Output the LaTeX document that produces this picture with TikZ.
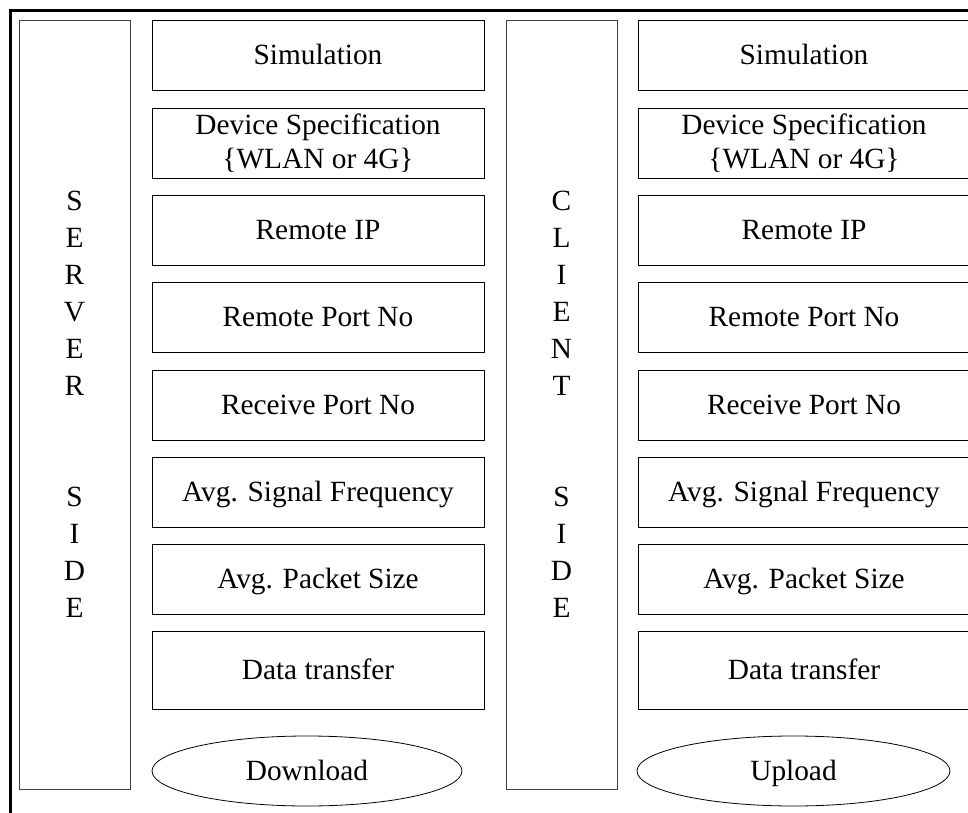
\documentclass[tikz,border=0pt]{standalone}
\usepackage{fontspec}
\setmainfont{Liberation Serif}
\usetikzlibrary{shapes.geometric}

\begin{document}
\begin{tikzpicture}[x=0.75pt, y=-0.75pt,
		field/.style={draw, line width=0.6pt, minimum width=249pt, minimum height=52.5pt, inner sep=0pt, align=center, text height=19pt, text depth=5pt, font=\fontsize{22}{25.5}\selectfont},
		sidecol/.style={draw, black!75, line width=0.6pt, minimum width=83.25pt, minimum height=576.75pt, inner sep=0pt},
		sidetext/.style={inner sep=0pt, align=center, font=\fontsize{22}{27.75}\selectfont},
		transfer/.style={draw, ellipse, line width=0.6pt, minimum height=52.5pt, inner sep=0pt, text height=19pt, text depth=5pt, font=\fontsize{22}{24}\selectfont}]
		\useasboundingbox (0,0) rectangle (968,813);
		\clip (0,0) rectangle (968,813);
		\draw [line width=2.25pt] (968,11) -- (10,11) -- (10,813);
		% the two side columns
		\node [sidecol] (server) at (74.5,404.5) {};
		\node [sidetext, anchor=north] (servertxt) at (74.5,191) {S\\E\\R\\V\\E\\R\\~\\~\\S\\I\\D\\E};
		\node [sidecol] (client) at (561.5,404.5) {};
		\node [sidetext, anchor=north] (clienttxt) at (561.5,191) {C\\L\\I\\E\\N\\T\\~\\~\\S\\I\\D\\E};
		% parameter boxes, same on both sides
		\foreach \side/\cx in {s/318, c/804} {
			\node [field] (\side-sim) at (\cx,55) {Simulation};
			\node [field, text height={}, text depth={}] (\side-dev) at (\cx,143) {Device Specification\\\{WLAN or 4G\}};
			\node [field] (\side-ip) at (\cx,230) {Remote IP};
			\node [field] (\side-rport) at (\cx,317) {Remote Port No};
			\node [field] (\side-recv) at (\cx,405) {Receive Port No};
			\node [field] (\side-freq) at (\cx,492) {Avg. Signal Frequency};
			\node [field] (\side-pkt) at (\cx,579) {Avg. Packet Size};
			\node [field, minimum height=58.5pt] (\side-data) at (\cx,670) {Data transfer};
		}
		\node [transfer, minimum width=232.5pt] (download) at (307,771) {Download};
		\node [transfer, minimum width=234.75pt] (upload) at (793.5,771) {Upload};
	\end{tikzpicture}
\end{document}
